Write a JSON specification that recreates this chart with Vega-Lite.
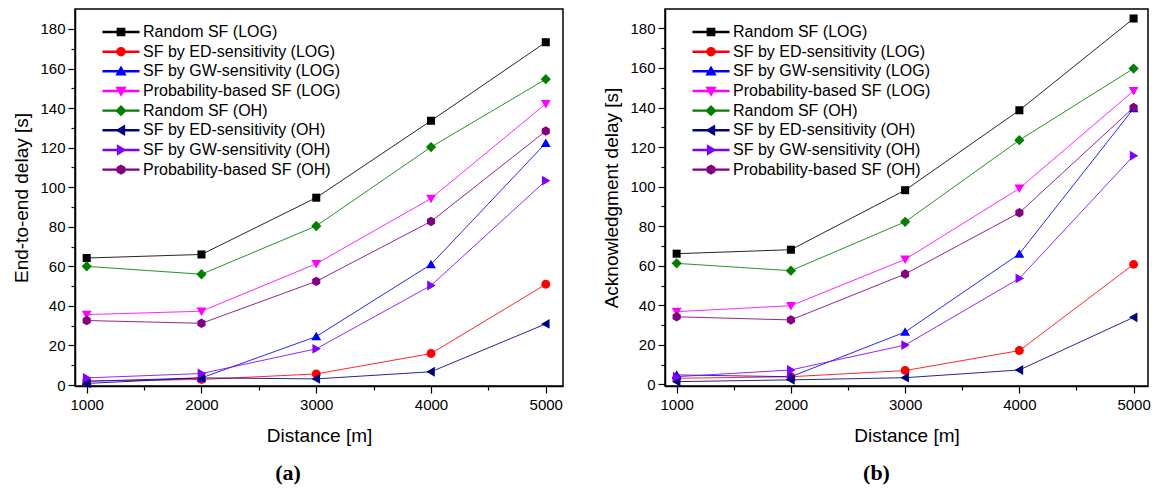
{
  "$schema": "https://vega.github.io/schema/vega-lite/v6.json",
  "padding": {"left": 12, "top": 8, "right": 2, "bottom": 2},
  "background": "white",
  "bounds": "flush",
  "spacing": 102,
  "config": {
    "view": {"stroke": "black", "strokeWidth": 1.5},
    "axis": {
      "grid": false,
      "domainColor": "black",
      "domainWidth": 1.5,
      "tickColor": "black",
      "tickWidth": 1.2,
      "labelFont": "Liberation Sans",
      "labelFontSize": 15,
      "labelColor": "black",
      "titleFont": "Liberation Sans",
      "titleFontSize": 19,
      "titleFontWeight": "normal",
      "titleColor": "black"
    },
    "legend": {
      "orient": "none",
      "legendX": 38,
      "legendY": 15,
      "padding": 0,
      "rowPadding": 3.66,
      "labelFont": "Liberation Sans",
      "labelFontSize": 16,
      "labelColor": "black",
      "labelOffset": 14,
      "labelLimit": 0,
      "symbolSize": 64,
      "symbolOpacity": 1,
      "title": null
    }
  },
  "data": {"values": [
    {"panel": "a", "series": "Random SF (LOG)", "distance": 1000, "delay": 64.2},
    {"panel": "a", "series": "Random SF (LOG)", "distance": 2000, "delay": 66.0},
    {"panel": "a", "series": "Random SF (LOG)", "distance": 3000, "delay": 94.7},
    {"panel": "a", "series": "Random SF (LOG)", "distance": 4000, "delay": 133.6},
    {"panel": "a", "series": "Random SF (LOG)", "distance": 5000, "delay": 173.3},
    {"panel": "a", "series": "SF by ED-sensitivity (LOG)", "distance": 1000, "delay": 2.0},
    {"panel": "a", "series": "SF by ED-sensitivity (LOG)", "distance": 2000, "delay": 2.8},
    {"panel": "a", "series": "SF by ED-sensitivity (LOG)", "distance": 3000, "delay": 5.6},
    {"panel": "a", "series": "SF by ED-sensitivity (LOG)", "distance": 4000, "delay": 15.9},
    {"panel": "a", "series": "SF by ED-sensitivity (LOG)", "distance": 5000, "delay": 50.9},
    {"panel": "a", "series": "SF by GW-sensitivity (LOG)", "distance": 1000, "delay": 1.9},
    {"panel": "a", "series": "SF by GW-sensitivity (LOG)", "distance": 2000, "delay": 3.6},
    {"panel": "a", "series": "SF by GW-sensitivity (LOG)", "distance": 3000, "delay": 24.5},
    {"panel": "a", "series": "SF by GW-sensitivity (LOG)", "distance": 4000, "delay": 61.0},
    {"panel": "a", "series": "SF by GW-sensitivity (LOG)", "distance": 5000, "delay": 122.3},
    {"panel": "a", "series": "Probability-based SF (LOG)", "distance": 1000, "delay": 35.6},
    {"panel": "a", "series": "Probability-based SF (LOG)", "distance": 2000, "delay": 37.3},
    {"panel": "a", "series": "Probability-based SF (LOG)", "distance": 3000, "delay": 61.3},
    {"panel": "a", "series": "Probability-based SF (LOG)", "distance": 4000, "delay": 94.3},
    {"panel": "a", "series": "Probability-based SF (LOG)", "distance": 5000, "delay": 142.2},
    {"panel": "a", "series": "Random SF (OH)", "distance": 1000, "delay": 60.0},
    {"panel": "a", "series": "Random SF (OH)", "distance": 2000, "delay": 56.0},
    {"panel": "a", "series": "Random SF (OH)", "distance": 3000, "delay": 80.4},
    {"panel": "a", "series": "Random SF (OH)", "distance": 4000, "delay": 120.3},
    {"panel": "a", "series": "Random SF (OH)", "distance": 5000, "delay": 154.6},
    {"panel": "a", "series": "SF by ED-sensitivity (OH)", "distance": 1000, "delay": 0.8},
    {"panel": "a", "series": "SF by ED-sensitivity (OH)", "distance": 2000, "delay": 3.6},
    {"panel": "a", "series": "SF by ED-sensitivity (OH)", "distance": 3000, "delay": 3.1},
    {"panel": "a", "series": "SF by ED-sensitivity (OH)", "distance": 4000, "delay": 6.7},
    {"panel": "a", "series": "SF by ED-sensitivity (OH)", "distance": 5000, "delay": 30.9},
    {"panel": "a", "series": "SF by GW-sensitivity (OH)", "distance": 1000, "delay": 3.6},
    {"panel": "a", "series": "SF by GW-sensitivity (OH)", "distance": 2000, "delay": 5.8},
    {"panel": "a", "series": "SF by GW-sensitivity (OH)", "distance": 3000, "delay": 18.3},
    {"panel": "a", "series": "SF by GW-sensitivity (OH)", "distance": 4000, "delay": 50.3},
    {"panel": "a", "series": "SF by GW-sensitivity (OH)", "distance": 5000, "delay": 103.3},
    {"panel": "a", "series": "Probability-based SF (OH)", "distance": 1000, "delay": 32.6},
    {"panel": "a", "series": "Probability-based SF (OH)", "distance": 2000, "delay": 31.2},
    {"panel": "a", "series": "Probability-based SF (OH)", "distance": 3000, "delay": 52.4},
    {"panel": "a", "series": "Probability-based SF (OH)", "distance": 4000, "delay": 82.7},
    {"panel": "a", "series": "Probability-based SF (OH)", "distance": 5000, "delay": 128.4},
    {"panel": "b", "series": "Random SF (LOG)", "distance": 1000, "delay": 66.1},
    {"panel": "b", "series": "Random SF (LOG)", "distance": 2000, "delay": 68.1},
    {"panel": "b", "series": "Random SF (LOG)", "distance": 3000, "delay": 98.2},
    {"panel": "b", "series": "Random SF (LOG)", "distance": 4000, "delay": 138.6},
    {"panel": "b", "series": "Random SF (LOG)", "distance": 5000, "delay": 185.0},
    {"panel": "b", "series": "SF by ED-sensitivity (LOG)", "distance": 1000, "delay": 3.1},
    {"panel": "b", "series": "SF by ED-sensitivity (LOG)", "distance": 2000, "delay": 3.9},
    {"panel": "b", "series": "SF by ED-sensitivity (LOG)", "distance": 3000, "delay": 7.0},
    {"panel": "b", "series": "SF by ED-sensitivity (LOG)", "distance": 4000, "delay": 17.1},
    {"panel": "b", "series": "SF by ED-sensitivity (LOG)", "distance": 5000, "delay": 60.7},
    {"panel": "b", "series": "SF by GW-sensitivity (LOG)", "distance": 1000, "delay": 4.8},
    {"panel": "b", "series": "SF by GW-sensitivity (LOG)", "distance": 2000, "delay": 3.9},
    {"panel": "b", "series": "SF by GW-sensitivity (LOG)", "distance": 3000, "delay": 26.5},
    {"panel": "b", "series": "SF by GW-sensitivity (LOG)", "distance": 4000, "delay": 66.0},
    {"panel": "b", "series": "SF by GW-sensitivity (LOG)", "distance": 5000, "delay": 139.5},
    {"panel": "b", "series": "Probability-based SF (LOG)", "distance": 1000, "delay": 36.8},
    {"panel": "b", "series": "Probability-based SF (LOG)", "distance": 2000, "delay": 39.8},
    {"panel": "b", "series": "Probability-based SF (LOG)", "distance": 3000, "delay": 63.2},
    {"panel": "b", "series": "Probability-based SF (LOG)", "distance": 4000, "delay": 99.1},
    {"panel": "b", "series": "Probability-based SF (LOG)", "distance": 5000, "delay": 148.4},
    {"panel": "b", "series": "Random SF (OH)", "distance": 1000, "delay": 61.2},
    {"panel": "b", "series": "Random SF (OH)", "distance": 2000, "delay": 57.5},
    {"panel": "b", "series": "Random SF (OH)", "distance": 3000, "delay": 82.2},
    {"panel": "b", "series": "Random SF (OH)", "distance": 4000, "delay": 123.5},
    {"panel": "b", "series": "Random SF (OH)", "distance": 5000, "delay": 159.7},
    {"panel": "b", "series": "SF by ED-sensitivity (OH)", "distance": 1000, "delay": 1.4},
    {"panel": "b", "series": "SF by ED-sensitivity (OH)", "distance": 2000, "delay": 2.3},
    {"panel": "b", "series": "SF by ED-sensitivity (OH)", "distance": 3000, "delay": 3.4},
    {"panel": "b", "series": "SF by ED-sensitivity (OH)", "distance": 4000, "delay": 7.3},
    {"panel": "b", "series": "SF by ED-sensitivity (OH)", "distance": 5000, "delay": 33.9},
    {"panel": "b", "series": "SF by GW-sensitivity (OH)", "distance": 1000, "delay": 3.9},
    {"panel": "b", "series": "SF by GW-sensitivity (OH)", "distance": 2000, "delay": 7.3},
    {"panel": "b", "series": "SF by GW-sensitivity (OH)", "distance": 3000, "delay": 19.9},
    {"panel": "b", "series": "SF by GW-sensitivity (OH)", "distance": 4000, "delay": 53.6},
    {"panel": "b", "series": "SF by GW-sensitivity (OH)", "distance": 5000, "delay": 115.6},
    {"panel": "b", "series": "Probability-based SF (OH)", "distance": 1000, "delay": 34.2},
    {"panel": "b", "series": "Probability-based SF (OH)", "distance": 2000, "delay": 32.6},
    {"panel": "b", "series": "Probability-based SF (OH)", "distance": 3000, "delay": 55.8},
    {"panel": "b", "series": "Probability-based SF (OH)", "distance": 4000, "delay": 86.8},
    {"panel": "b", "series": "Probability-based SF (OH)", "distance": 5000, "delay": 140.0}
  ]},
  "resolve": {
    "scale": {"color": "independent", "shape": "independent", "x": "independent", "y": "independent"},
    "legend": {"color": "independent", "shape": "independent"}
  },
  "hconcat": [
    {
      "width": 488,
      "height": 377,
      "transform": [{"filter": "datum.panel === 'a'"}],
      "title": {"text": "(a)", "orient": "bottom", "font": "Liberation Serif", "fontSize": 22, "fontWeight": "bold", "color": "black", "dx": -31, "offset": 18},
      "encoding": {
        "x": {"field": "distance", "type": "quantitative", "title": "Distance [m]",
          "scale": {"domain": [898, 5150], "nice": false, "zero": false},
          "axis": {"values": [1000, 1500, 2000, 2500, 3000, 3500, 4000, 4500, 5000], "format": "d",
            "labelExpr": "datum.value % 1000 === 0 ? datum.label : ''",
            "tickSize": {"condition": {"test": "datum.value % 1000 === 0", "value": 7}, "value": 4},
            "labelPadding": 4, "titlePadding": 14, "labelFlush": false}},
        "y": {"field": "delay", "type": "quantitative", "title": "End-to-end delay [s]",
          "scale": {"domain": [-0.5, 190.1], "nice": false, "zero": false},
          "axis": {"values": [0, 10, 20, 30, 40, 50, 60, 70, 80, 90, 100, 110, 120, 130, 140, 150, 160, 170, 180],
            "labelExpr": "datum.value % 20 === 0 ? datum.label : ''",
            "tickSize": {"condition": {"test": "datum.value % 20 === 0", "value": 7}, "value": 4},
            "labelPadding": 3, "titlePadding": 8, "labelFlush": false}}
      },
      "layer": [
        {"mark": {"type": "line", "strokeWidth": 1, "opacity": 0.85},
          "encoding": {"color": {"field": "series", "type": "nominal",
            "scale": {"domain": ["Random SF (LOG)", "SF by ED-sensitivity (LOG)", "SF by GW-sensitivity (LOG)", "Probability-based SF (LOG)", "Random SF (OH)", "SF by ED-sensitivity (OH)", "SF by GW-sensitivity (OH)", "Probability-based SF (OH)"],
              "range": ["#000000", "#ff0000", "#0000ff", "#ff00ff", "#008000", "#000080", "#8000ff", "#800080"]}}}},
        {"transform": [{"filter": "datum.series === 'Random SF (LOG)'"}], "mark": {"type": "point", "filled": true, "size": 80, "opacity": 1, "color": "#000000", "shape": "M-0.9,-0.9H0.9V0.9H-0.9Z"}},
        {"transform": [{"filter": "datum.series === 'SF by ED-sensitivity (LOG)'"}], "mark": {"type": "point", "filled": true, "size": 80, "opacity": 1, "color": "#ff0000", "shape": "M-1,0A1,1,0,1,1,1,0A1,1,0,1,1,-1,0Z"}},
        {"transform": [{"filter": "datum.series === 'SF by GW-sensitivity (LOG)'"}], "mark": {"type": "point", "filled": true, "size": 80, "opacity": 1, "color": "#0000ff", "shape": "M0,-1.05L1.1,0.85L-1.1,0.85Z"}},
        {"transform": [{"filter": "datum.series === 'Probability-based SF (LOG)'"}], "mark": {"type": "point", "filled": true, "size": 80, "opacity": 1, "color": "#ff00ff", "shape": "M0,1.05L-1.1,-0.85L1.1,-0.85Z"}},
        {"transform": [{"filter": "datum.series === 'Random SF (OH)'"}], "mark": {"type": "point", "filled": true, "size": 80, "opacity": 1, "color": "#008000", "shape": "M0,-1.15L1.15,0L0,1.15L-1.15,0Z"}},
        {"transform": [{"filter": "datum.series === 'SF by ED-sensitivity (OH)'"}], "mark": {"type": "point", "filled": true, "size": 80, "opacity": 1, "color": "#000080", "shape": "M-1.05,0L0.85,-1.1L0.85,1.1Z"}},
        {"transform": [{"filter": "datum.series === 'SF by GW-sensitivity (OH)'"}], "mark": {"type": "point", "filled": true, "size": 80, "opacity": 1, "color": "#8000ff", "shape": "M1.05,0L-0.85,1.1L-0.85,-1.1Z"}},
        {"transform": [{"filter": "datum.series === 'Probability-based SF (OH)'"}], "mark": {"type": "point", "filled": true, "size": 80, "opacity": 1, "color": "#800080", "shape": "M0,-1.05L0.91,-0.525L0.91,0.525L0,1.05L-0.91,0.525L-0.91,-0.525Z"}},
        {"mark": {"type": "point", "filled": true, "size": 0, "opacity": 1},
          "encoding": {
            "color": {"field": "series", "type": "nominal",
              "scale": {"domain": ["Random SF (LOG)", "SF by ED-sensitivity (LOG)", "SF by GW-sensitivity (LOG)", "Probability-based SF (LOG)", "Random SF (OH)", "SF by ED-sensitivity (OH)", "SF by GW-sensitivity (OH)", "Probability-based SF (OH)"],
                "range": ["#000000", "#ff0000", "#0000ff", "#ff00ff", "#008000", "#000080", "#8000ff", "#800080"]}},
            "shape": {"field": "series", "type": "nominal",
              "scale": {"domain": ["Random SF (LOG)", "SF by ED-sensitivity (LOG)", "SF by GW-sensitivity (LOG)", "Probability-based SF (LOG)", "Random SF (OH)", "SF by ED-sensitivity (OH)", "SF by GW-sensitivity (OH)", "Probability-based SF (OH)"],
                "range": ["M-4.45,-0.12H-0.6V0.12H-4.45ZM0.6,-0.12H4.45V0.12H0.6ZM-0.9,-0.9H0.9V0.9H-0.9Z", "M-4.45,-0.12H-0.6V0.12H-4.45ZM0.6,-0.12H4.45V0.12H0.6ZM-1,0A1,1,0,1,1,1,0A1,1,0,1,1,-1,0Z", "M-4.45,-0.12H-0.6V0.12H-4.45ZM0.6,-0.12H4.45V0.12H0.6ZM0,-1.05L1.1,0.85L-1.1,0.85Z", "M-4.45,-0.12H-0.6V0.12H-4.45ZM0.6,-0.12H4.45V0.12H0.6ZM0,1.05L-1.1,-0.85L1.1,-0.85Z", "M-4.45,-0.12H-0.6V0.12H-4.45ZM0.6,-0.12H4.45V0.12H0.6ZM0,-1.15L1.15,0L0,1.15L-1.15,0Z", "M-4.45,-0.12H-0.6V0.12H-4.45ZM0.6,-0.12H4.45V0.12H0.6ZM-1.05,0L0.85,-1.1L0.85,1.1Z", "M-4.45,-0.12H-0.6V0.12H-4.45ZM0.6,-0.12H4.45V0.12H0.6ZM1.05,0L-0.85,1.1L-0.85,-1.1Z", "M-4.45,-0.12H-0.6V0.12H-4.45ZM0.6,-0.12H4.45V0.12H0.6ZM0,-1.05L0.91,-0.525L0.91,0.525L0,1.05L-0.91,0.525L-0.91,-0.525Z"]}}}}
      ]
    },
    {
      "width": 483,
      "height": 377,
      "transform": [{"filter": "datum.panel === 'b'"}],
      "title": {"text": "(b)", "orient": "bottom", "font": "Liberation Serif", "fontSize": 22, "fontWeight": "bold", "color": "black", "dx": -30, "offset": 18},
      "encoding": {
        "x": {"field": "distance", "type": "quantitative", "title": "Distance [m]",
          "scale": {"domain": [898, 5126], "nice": false, "zero": false},
          "axis": {"values": [1000, 1500, 2000, 2500, 3000, 3500, 4000, 4500, 5000], "format": "d",
            "labelExpr": "datum.value % 1000 === 0 ? datum.label : ''",
            "tickSize": {"condition": {"test": "datum.value % 1000 === 0", "value": 7}, "value": 4},
            "labelPadding": 4, "titlePadding": 14, "labelFlush": false}},
        "y": {"field": "delay", "type": "quantitative", "title": "Acknowledgment delay [s]",
          "scale": {"domain": [-0.8, 189.8], "nice": false, "zero": false},
          "axis": {"values": [0, 10, 20, 30, 40, 50, 60, 70, 80, 90, 100, 110, 120, 130, 140, 150, 160, 170, 180],
            "labelExpr": "datum.value % 20 === 0 ? datum.label : ''",
            "tickSize": {"condition": {"test": "datum.value % 20 === 0", "value": 7}, "value": 4},
            "labelPadding": 3, "titlePadding": 8, "labelFlush": false}}
      },
      "layer": [
        {"mark": {"type": "line", "strokeWidth": 1, "opacity": 0.85},
          "encoding": {"color": {"field": "series", "type": "nominal",
            "scale": {"domain": ["Random SF (LOG)", "SF by ED-sensitivity (LOG)", "SF by GW-sensitivity (LOG)", "Probability-based SF (LOG)", "Random SF (OH)", "SF by ED-sensitivity (OH)", "SF by GW-sensitivity (OH)", "Probability-based SF (OH)"],
              "range": ["#000000", "#ff0000", "#0000ff", "#ff00ff", "#008000", "#000080", "#8000ff", "#800080"]}}}},
        {"transform": [{"filter": "datum.series === 'Random SF (LOG)'"}], "mark": {"type": "point", "filled": true, "size": 80, "opacity": 1, "color": "#000000", "shape": "M-0.9,-0.9H0.9V0.9H-0.9Z"}},
        {"transform": [{"filter": "datum.series === 'SF by ED-sensitivity (LOG)'"}], "mark": {"type": "point", "filled": true, "size": 80, "opacity": 1, "color": "#ff0000", "shape": "M-1,0A1,1,0,1,1,1,0A1,1,0,1,1,-1,0Z"}},
        {"transform": [{"filter": "datum.series === 'SF by GW-sensitivity (LOG)'"}], "mark": {"type": "point", "filled": true, "size": 80, "opacity": 1, "color": "#0000ff", "shape": "M0,-1.05L1.1,0.85L-1.1,0.85Z"}},
        {"transform": [{"filter": "datum.series === 'Probability-based SF (LOG)'"}], "mark": {"type": "point", "filled": true, "size": 80, "opacity": 1, "color": "#ff00ff", "shape": "M0,1.05L-1.1,-0.85L1.1,-0.85Z"}},
        {"transform": [{"filter": "datum.series === 'Random SF (OH)'"}], "mark": {"type": "point", "filled": true, "size": 80, "opacity": 1, "color": "#008000", "shape": "M0,-1.15L1.15,0L0,1.15L-1.15,0Z"}},
        {"transform": [{"filter": "datum.series === 'SF by ED-sensitivity (OH)'"}], "mark": {"type": "point", "filled": true, "size": 80, "opacity": 1, "color": "#000080", "shape": "M-1.05,0L0.85,-1.1L0.85,1.1Z"}},
        {"transform": [{"filter": "datum.series === 'SF by GW-sensitivity (OH)'"}], "mark": {"type": "point", "filled": true, "size": 80, "opacity": 1, "color": "#8000ff", "shape": "M1.05,0L-0.85,1.1L-0.85,-1.1Z"}},
        {"transform": [{"filter": "datum.series === 'Probability-based SF (OH)'"}], "mark": {"type": "point", "filled": true, "size": 80, "opacity": 1, "color": "#800080", "shape": "M0,-1.05L0.91,-0.525L0.91,0.525L0,1.05L-0.91,0.525L-0.91,-0.525Z"}},
        {"mark": {"type": "point", "filled": true, "size": 0, "opacity": 1},
          "encoding": {
            "color": {"field": "series", "type": "nominal",
              "scale": {"domain": ["Random SF (LOG)", "SF by ED-sensitivity (LOG)", "SF by GW-sensitivity (LOG)", "Probability-based SF (LOG)", "Random SF (OH)", "SF by ED-sensitivity (OH)", "SF by GW-sensitivity (OH)", "Probability-based SF (OH)"],
                "range": ["#000000", "#ff0000", "#0000ff", "#ff00ff", "#008000", "#000080", "#8000ff", "#800080"]}},
            "shape": {"field": "series", "type": "nominal",
              "scale": {"domain": ["Random SF (LOG)", "SF by ED-sensitivity (LOG)", "SF by GW-sensitivity (LOG)", "Probability-based SF (LOG)", "Random SF (OH)", "SF by ED-sensitivity (OH)", "SF by GW-sensitivity (OH)", "Probability-based SF (OH)"],
                "range": ["M-4.45,-0.12H-0.6V0.12H-4.45ZM0.6,-0.12H4.45V0.12H0.6ZM-0.9,-0.9H0.9V0.9H-0.9Z", "M-4.45,-0.12H-0.6V0.12H-4.45ZM0.6,-0.12H4.45V0.12H0.6ZM-1,0A1,1,0,1,1,1,0A1,1,0,1,1,-1,0Z", "M-4.45,-0.12H-0.6V0.12H-4.45ZM0.6,-0.12H4.45V0.12H0.6ZM0,-1.05L1.1,0.85L-1.1,0.85Z", "M-4.45,-0.12H-0.6V0.12H-4.45ZM0.6,-0.12H4.45V0.12H0.6ZM0,1.05L-1.1,-0.85L1.1,-0.85Z", "M-4.45,-0.12H-0.6V0.12H-4.45ZM0.6,-0.12H4.45V0.12H0.6ZM0,-1.15L1.15,0L0,1.15L-1.15,0Z", "M-4.45,-0.12H-0.6V0.12H-4.45ZM0.6,-0.12H4.45V0.12H0.6ZM-1.05,0L0.85,-1.1L0.85,1.1Z", "M-4.45,-0.12H-0.6V0.12H-4.45ZM0.6,-0.12H4.45V0.12H0.6ZM1.05,0L-0.85,1.1L-0.85,-1.1Z", "M-4.45,-0.12H-0.6V0.12H-4.45ZM0.6,-0.12H4.45V0.12H0.6ZM0,-1.05L0.91,-0.525L0.91,0.525L0,1.05L-0.91,0.525L-0.91,-0.525Z"]}}}}
      ]
    }
  ]
}
